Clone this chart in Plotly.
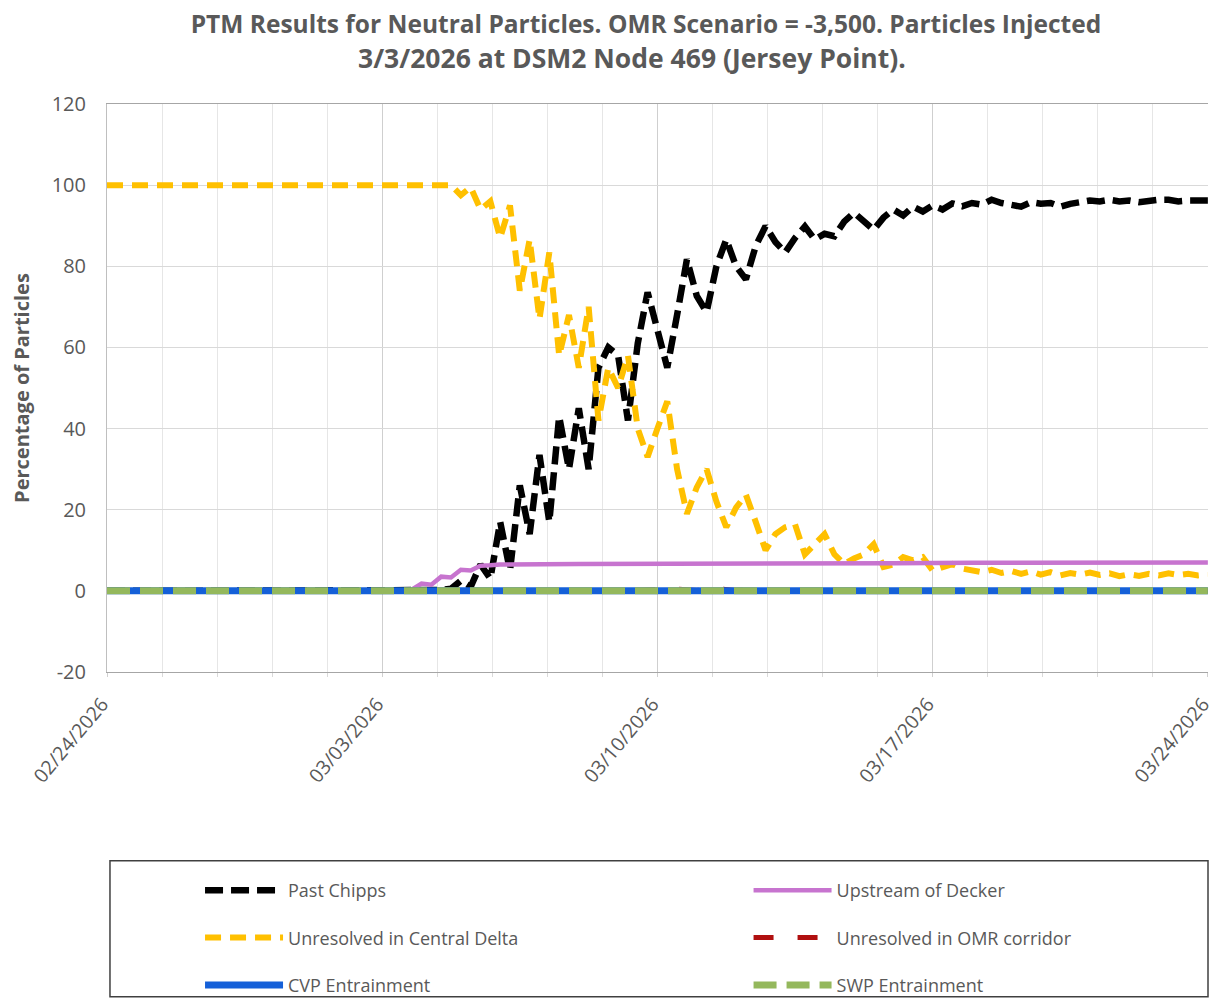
import pandas as pd
import plotly.graph_objects as go

# time grid: daily before injection, then every 6 hours
t_daily = list(pd.date_range("2026-02-24", "2026-03-03", freq="D"))
t_6h = list(pd.date_range("2026-03-03 06:00", "2026-03-24 00:00", freq="6h"))
times = t_daily + t_6h

past_chipps = [0, 0, 0, 0, 0, 0, 0, 0,
               0, 0, 0,
               0, 0, 0.2, 0.5, 2.5, 1.0, 6.5, 3, 17, 5,
               26, 14, 33.5, 17, 43, 30, 45, 30, 55, 60,
               58, 42, 61, 73.6, 64, 55, 68, 81.7, 72.7, 68.7,
               80, 86.6, 80, 76.8, 85, 89.9, 86, 83.4, 87, 89.8,
               86.6, 88, 87.4, 91, 93.2, 91, 89, 92, 94, 92.5,
               94.7, 93.5, 95, 94, 95.5, 94.8, 95.6, 95.2, 96.4, 95.6,
               95.2, 94.7, 95.8, 95.4, 95.6, 94.7, 95.4, 96, 96.2, 96,
               96.4, 96, 96.2, 95.8, 96.2, 96.4, 96.4, 96, 96.2, 96.4, 96.2]

central_delta = [100, 100, 100, 100, 100, 100, 100, 100,
                 100, 100, 100,
                 100, 100, 99.8, 100, 97.5, 99.5, 94, 96, 87, 95,
                 74, 86.6, 67, 83.4, 58, 68, 55, 70, 42, 55,
                 50, 58, 40, 33, 40, 46.7, 30, 19, 25.5, 30,
                 22, 15.7, 20.5, 23.7, 17, 10, 14, 15.7, 16.4, 9,
                 11.5, 14, 9, 6.6, 8, 9, 11.5, 5.9, 6.5, 8.3,
                 7.5, 8.3, 5, 5.8, 6.6, 5.5, 5, 4.6, 5.2, 4.4,
                 4.9, 4.2, 4.8, 4.0, 4.6, 3.8, 4.4, 4.0, 4.5, 3.9,
                 4.3, 3.6, 4.1, 3.7, 4.2, 3.8, 4.3, 3.9, 4.2, 3.8, 4.0]

decker_time = ["2026-02-24", "2026-03-03 12:00", "2026-03-03 18:00", "2026-03-04 00:00",
               "2026-03-04 06:00", "2026-03-04 12:00", "2026-03-04 18:00", "2026-03-05 00:00",
               "2026-03-05 06:00", "2026-03-05 12:00", "2026-03-05 18:00", "2026-03-06",
               "2026-03-08", "2026-03-10", "2026-03-12", "2026-03-14", "2026-03-16",
               "2026-03-18", "2026-03-20", "2026-03-22", "2026-03-24"]
upstream_decker = [0, 0, 0.3, 1.8, 1.5, 3.5, 3.3, 5.2, 5.0, 6.2, 6.3, 6.5,
                   6.6, 6.6, 6.7, 6.8, 6.8, 6.9, 6.9, 7.0, 7.0]

omr_time = ["2026-02-24", "2026-03-09", "2026-03-10 12:00", "2026-03-11",
            "2026-03-11 12:00", "2026-03-12", "2026-03-12 12:00", "2026-03-13", "2026-03-24"]
omr_corridor = [0, 0, 0.4, 0.1, 0.5, 0.1, 0.3, 0, 0]

pump_time = ["2026-02-24", "2026-03-24"]
cvp = [0, 0]
swp = [0, 0]

week_ticks = ["2026-02-24", "2026-03-03", "2026-03-10", "2026-03-17", "2026-03-24"]
y_ticks = [-20, 0, 20, 40, 60, 80, 100, 120]
y_labels = ["-20", "0", "20", "40", "60", "80", "100", "120"]

grey = "#595959"
fnt = "Open Sans"

fig = go.Figure()
fig.add_trace(go.Scatter(x=times, y=past_chipps, name="Past Chipps", mode="lines",
                         line=dict(color="black", width=6.5, dash="18px,8px"),
                         legend="legend", legendgroup="a", legendrank=1))
fig.add_trace(go.Scatter(x=times, y=central_delta, name="Unresolved in Central Delta", mode="lines",
                         line=dict(color="#FFC000", width=6, dash="16px,9px"),
                         legend="legend", legendgroup="b", legendrank=2))
fig.add_trace(go.Scatter(x=decker_time, y=upstream_decker, name="Upstream of Decker", mode="lines",
                         line=dict(color="#C774CF", width=4.5),
                         legend="legend2", legendgroup="c", legendrank=1))
fig.add_trace(go.Scatter(x=omr_time, y=omr_corridor, name="Unresolved in OMR corridor", mode="lines",
                         line=dict(color="#B01010", width=5, dash="20px,24px"),
                         legend="legend2", legendgroup="d", legendrank=2))
fig.add_trace(go.Scatter(x=pump_time, y=cvp, name="CVP Entrainment", mode="lines",
                         line=dict(color="#1560D8", width=7),
                         legend="legend", legendgroup="e", legendrank=3))
fig.add_trace(go.Scatter(x=pump_time, y=swp, name="SWP Entrainment", mode="lines",
                         line=dict(color="#94B85C", width=7, dash="23px,10px"),
                         legend="legend2", legendgroup="f", legendrank=3))

leg = dict(orientation="v", yanchor="top", y=-0.352, xanchor="left",
           font=dict(family=fnt, size=18, color=grey), bgcolor="rgba(0,0,0,0)",
           itemwidth=78, tracegroupgap=21, itemclick=False)

# the page adds an 8px body margin, so margins are shifted to compensate
fig.update_layout(
    width=1217, height=1008,
    margin=dict(l=99, r=17, t=96, b=340),
    paper_bgcolor="white", plot_bgcolor="white",
    font=dict(family=fnt, color=grey),
    title=dict(text="<b>PTM Results for Neutral Particles. OMR Scenario = -3,500. Particles Injected</b>",
               x=0.5242, xanchor="center", y=0.984, yanchor="middle",
               font=dict(family=fnt, size=24.5, color=grey)),
    annotations=[dict(text="<b>3/3/2026 at DSM2 Node 469 (Jersey Point).</b>",
                      xref="paper", yref="paper", x=0.4768, y=1.0804,
                      xanchor="center", yanchor="middle", showarrow=False,
                      font=dict(family=fnt, size=26.5, color=grey))],
    legend=dict(leg, x=0.0845),
    legend2=dict(leg, x=0.5827),
    shapes=[dict(type="rect", xref="paper", yref="paper", x0=0.0027, x1=1.0,
                 y0=-0.5717, y1=-0.3322, line=dict(color="#404040", width=1.5))],
)

fig.update_xaxes(type="date", range=["2026-02-24", "2026-03-24 00:05"], automargin=False,
                 tickvals=week_ticks, tickformat="%m/%d/%Y", tickangle=-50,
                 tickfont=dict(family=fnt, size=19.5, color=grey),
                 ticklabelstandoff=8, ticklabelshift=-5,
                 showgrid=True, gridcolor="#cfcfcf", gridwidth=1,
                 showline=True, linecolor="#a6a6a6", linewidth=1, mirror=True,
                 ticks="outside", ticklen=4, tickcolor="#d0d0d0",
                 minor=dict(dtick=120960000, tick0="2026-02-24", showgrid=True,
                            gridcolor="#e6e6e6", ticks="outside", ticklen=4, tickcolor="#d9d9d9"))
fig.update_yaxes(range=[-20, 120], tickvals=y_ticks, ticktext=y_labels, automargin=False,
                 showgrid=True, gridcolor="#d9d9d9",
                 zeroline=False, showline=True, linecolor="#bfbfbf", linewidth=1,
                 tickfont=dict(family=fnt, size=20, color=grey), ticklabelstandoff=16,
                 title=dict(text="<b>Percentage of Particles</b>", standoff=20,
                            font=dict(family=fnt, size=20, color=grey)))

fig.write_html("out.html")
